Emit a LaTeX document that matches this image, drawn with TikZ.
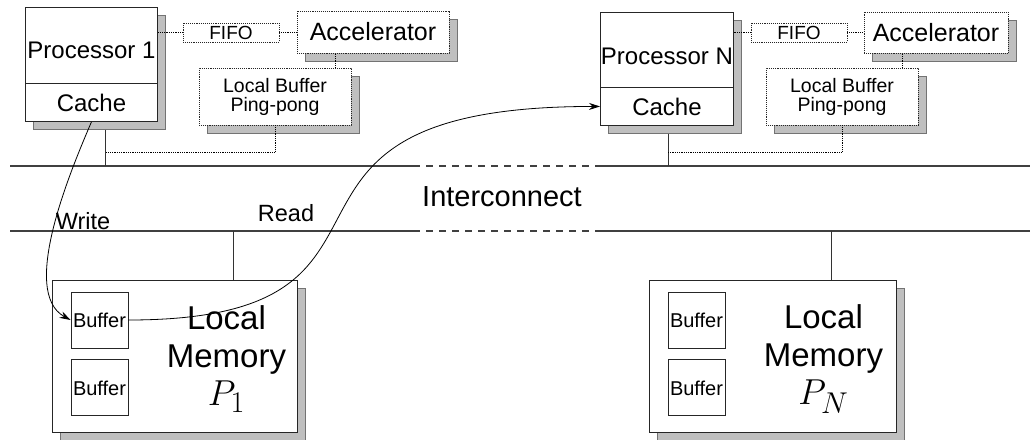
\documentclass[tikz,border=0pt]{standalone}
\usepackage{fontspec}
\setmainfont{Liberation Sans}
\usetikzlibrary{positioning, shadows, arrows.meta, calc}
\newcommand{\memname}[1]{\scalebox{1.45}{\fontsize{24.88}{30}\selectfont$P_{#1}$}}

\begin{document}
\begin{tikzpicture}
[x=1pt, y=-1pt,
plain/.style={rectangle, draw=black!85, fill=white, line width=.9pt, inner sep=0pt},
unit/.style={plain, general shadow={shadow xshift=8pt, shadow yshift=-8pt, fill=black!25, draw=black!55, solid}},
aux/.style={unit, densely dotted},
buffer/.style={plain, minimum width=57pt, minimum height=56pt, font=\fontsize{20}{22}\selectfont},
link/.style={densely dotted, line width=.8pt},
wire/.style={line width=.9pt, black!80},
bus/.style={line width=1.1pt, black!75},
flow/.style={line width=.8pt, -{Stealth[length=11pt, width=7pt]}},
big/.style={font=\fontsize{24}{28}\selectfont},
memtext/.style={align=center, font=\fontsize{33}{38}\selectfont}]

\useasboundingbox (0,0) rectangle (1030,439);

\coordinate (top) at (0,166);
\coordinate (bot) at (0,231);
\foreach \y in {166,231}{
  \draw[bus] (10,\y) -- (413,\y);
  \draw[bus, dash pattern=on 7pt off 6pt] (413,\y) -- (600,\y);
  \draw[bus] (600,\y) -- (1030,\y);
}

\node[unit, minimum width=132pt, minimum height=114pt, anchor=north west] (proc1) at (25,7) {};
\node[plain, big, minimum width=132pt, minimum height=38pt, anchor=south] (cache1) at (proc1.south) {Cache};
\node[big] (name1) at ([yshift=-43pt]proc1.north) {Processor 1};
\node[plain, densely dotted, minimum width=96pt, minimum height=19pt, font=\fontsize{19}{21}\selectfont] (fifo1) at (231,32.5) {FIFO};
\node[aux, minimum width=152pt, minimum height=42pt, font=\fontsize{25}{28}\selectfont] (acc1) at (373,32) {Accelerator};
\node[aux, minimum width=152pt, minimum height=57pt, align=center, font=\fontsize{19.5}{19}\selectfont] (lb1) at (275,96.5) {Local Buffer\\Ping-pong};

\node[unit, minimum width=133pt, minimum height=113pt, anchor=north west] (procN) at (600,12) {};
\node[plain, big, minimum width=133pt, minimum height=38pt, anchor=south] (cacheN) at (procN.south) {Cache};
\node[big] (nameN) at ([yshift=-44pt]procN.north) {Processor N};
\node[plain, densely dotted, minimum width=96pt, minimum height=19pt, font=\fontsize{19}{21}\selectfont] (fifoN) at (799,32.5) {FIFO};
\node[aux, minimum width=144pt, minimum height=41pt, font=\fontsize{25}{28}\selectfont] (accN) at (936,32.5) {Accelerator};
\node[aux, minimum width=152pt, minimum height=57pt, align=center, font=\fontsize{19.5}{19}\selectfont] (lbN) at (842,96.5) {Local Buffer\\Ping-pong};

\node[unit, minimum width=245pt, minimum height=152pt] (mem1) at (174.5,356) {};
\node[buffer] (buf11) at (99.5,320) {Buffer};
\node[buffer, below=11pt of buf11] (buf12) {Buffer};
\node[memtext] (memtxt1) at ([xshift=-71pt,yshift=-3pt]mem1.east) {Local\\Memory\\\memname{1}};

\node[unit, minimum width=247pt, minimum height=152pt] (memN) at (772.5,356) {};
\node[buffer] (bufN1) at (696.5,320) {Buffer};
\node[buffer, below=11pt of bufN1] (bufN2) {Buffer};
\node[memtext] (memtxtN) at ([xshift=-73pt,yshift=-3pt]memN.east) {Local\\Memory\\\memname{N}};

\node[font=\fontsize{29}{33}\selectfont] (icn) at (502,197) {Interconnect};
\node[font=\fontsize{23.5}{27}\selectfont] (wlab) at (83,221) {Write};
\node[font=\fontsize{23.5}{27}\selectfont] (rlab) at (286,213) {Read};

\draw[link] (fifo1.west) -- (fifo1.west -| proc1.east);
\draw[link] (fifo1.east) -- (fifo1.east -| acc1.west);
\draw[link] (fifoN.west) -- (fifoN.west -| procN.east);
\draw[link] (fifoN.east) -- (fifoN.east -| accN.west);

\coordinate (hook1) at ([xshift=60pt]lb1.north);
\coordinate (hookN) at ([xshift=60pt]lbN.north);
\draw[link] (hook1) -- (hook1 |- acc1.south);
\draw[link] (hookN) -- (hookN |- accN.south);

\coordinate (drop1) at ([xshift=14pt]proc1.south);
\coordinate (dropN) at ([xshift=1.5pt]procN.south);
\draw[wire] ([yshift=-8pt]drop1) -- (drop1 |- top);
\draw[wire] ([yshift=-8pt]dropN) -- (dropN |- top);
\draw[link] (lb1.south) |- ($(drop1 |- top)+(0,-14)$);
\draw[link] (lbN.south) |- ($(dropN |- top)+(0,-14)$);

\coordinate (up1) at ([xshift=58.5pt]mem1.north);
\coordinate (upN) at ([xshift=58.5pt]memN.north);
\draw[wire] (up1) -- (up1 |- bot);
\draw[wire] (upN) -- (upN |- bot);

\draw[flow] (cache1.south) .. controls +(-21,49) and +(-51,-28) .. (buf11.west);
\draw[flow] (buf11.east) .. controls +(323,0) and +(-384,0) .. (cacheN.west);
\end{tikzpicture}
\end{document}
